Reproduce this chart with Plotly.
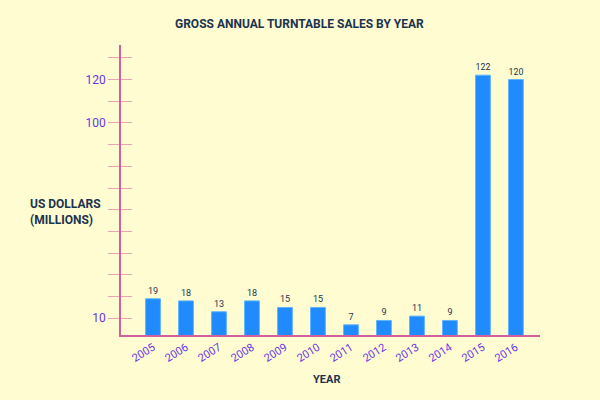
import plotly.graph_objects as go

years = ["2005", "2006", "2007", "2008", "2009", "2010", "2011", "2012", "2013", "2014", "2015", "2016"]
sales = [19, 18, 13, 18, 15, 15, 7, 9, 11, 9, 122, 120]
y_tickvals = [10, 20, 30, 40, 50, 60, 70, 80, 90, 100, 110, 120, 130]
y_ticktext = ["10", "", "", "", "", "", "", "", "", "100", "", "120", ""]

BG = "#fefcd0"
NAVY = "#1c3350"
PURPLE = "#6a35e6"
AXIS_PINK = "#d2609c"
TICK_PINK = "#eaa2b4"
FONT = "Roboto, sans-serif"

fig = go.Figure()
fig.add_trace(go.Bar(
    x=years, y=sales, width=0.45,
    marker=dict(color="#1f8bff", line=dict(color="#62b4ff", width=1)),
    text=[str(v) for v in sales], textposition="outside",
    textfont=dict(family=FONT, size=9, color=NAVY),
    cliponaxis=False,
))
# invisible trace on secondary axis for inside ticks
fig.add_trace(go.Scatter(x=years, y=sales, yaxis="y2", mode="markers",
                         marker=dict(opacity=0), hoverinfo="skip", showlegend=False))

yr = [2.3, 135.9]
fig.update_layout(
    width=600, height=400,
    paper_bgcolor=BG, plot_bgcolor=BG,
    margin=dict(l=121, r=60, t=45, b=65),
    showlegend=False,
    xaxis=dict(
        type="category", range=[-0.97, 11.73],
        showline=True, linecolor=AXIS_PINK, linewidth=1.5,
        showgrid=False, zeroline=False, ticks="",
        tickangle=-32,
        tickfont=dict(family=FONT, size=11, color=PURPLE),
    ),
    yaxis=dict(
        range=yr, showline=True, linecolor=AXIS_PINK, linewidth=1.5,
        showgrid=False, zeroline=False,
        tickmode="array", tickvals=y_tickvals, ticktext=y_ticktext,
        ticks="outside", ticklen=11, tickwidth=1.2, tickcolor=TICK_PINK,
        tickfont=dict(family=FONT, size=12, color=PURPLE),
    ),
    yaxis2=dict(
        range=yr, overlaying="y", side="left", anchor="x",
        showline=False, showgrid=False, zeroline=False,
        tickmode="array", tickvals=y_tickvals, showticklabels=False,
        ticks="inside", ticklen=11, tickwidth=1.2, tickcolor=TICK_PINK,
    ),
    annotations=[
        dict(text="<b>GROSS ANNUAL TURNTABLE SALES BY YEAR</b>", x=0.427, y=1.073,
             xref="paper", yref="paper", showarrow=False, xanchor="center", yanchor="middle",
             font=dict(family=FONT, size=12, color=NAVY)),
        dict(text="<b>US DOLLARS<br>(MILLIONS)</b>", x=-0.222, y=0.424,
             xref="paper", yref="paper", showarrow=False, xanchor="left", yanchor="middle",
             align="left",
             font=dict(family=FONT, size=12, color=NAVY)),
        dict(text="<b>YEAR</b>", x=0.49, y=-0.155,
             xref="paper", yref="paper", showarrow=False, xanchor="center", yanchor="middle",
             font=dict(family=FONT, size=11, color=NAVY)),
    ],
)

fig.write_html("out.html", config={"displayModeBar": False},
               post_script="document.body.style.margin='0';")
